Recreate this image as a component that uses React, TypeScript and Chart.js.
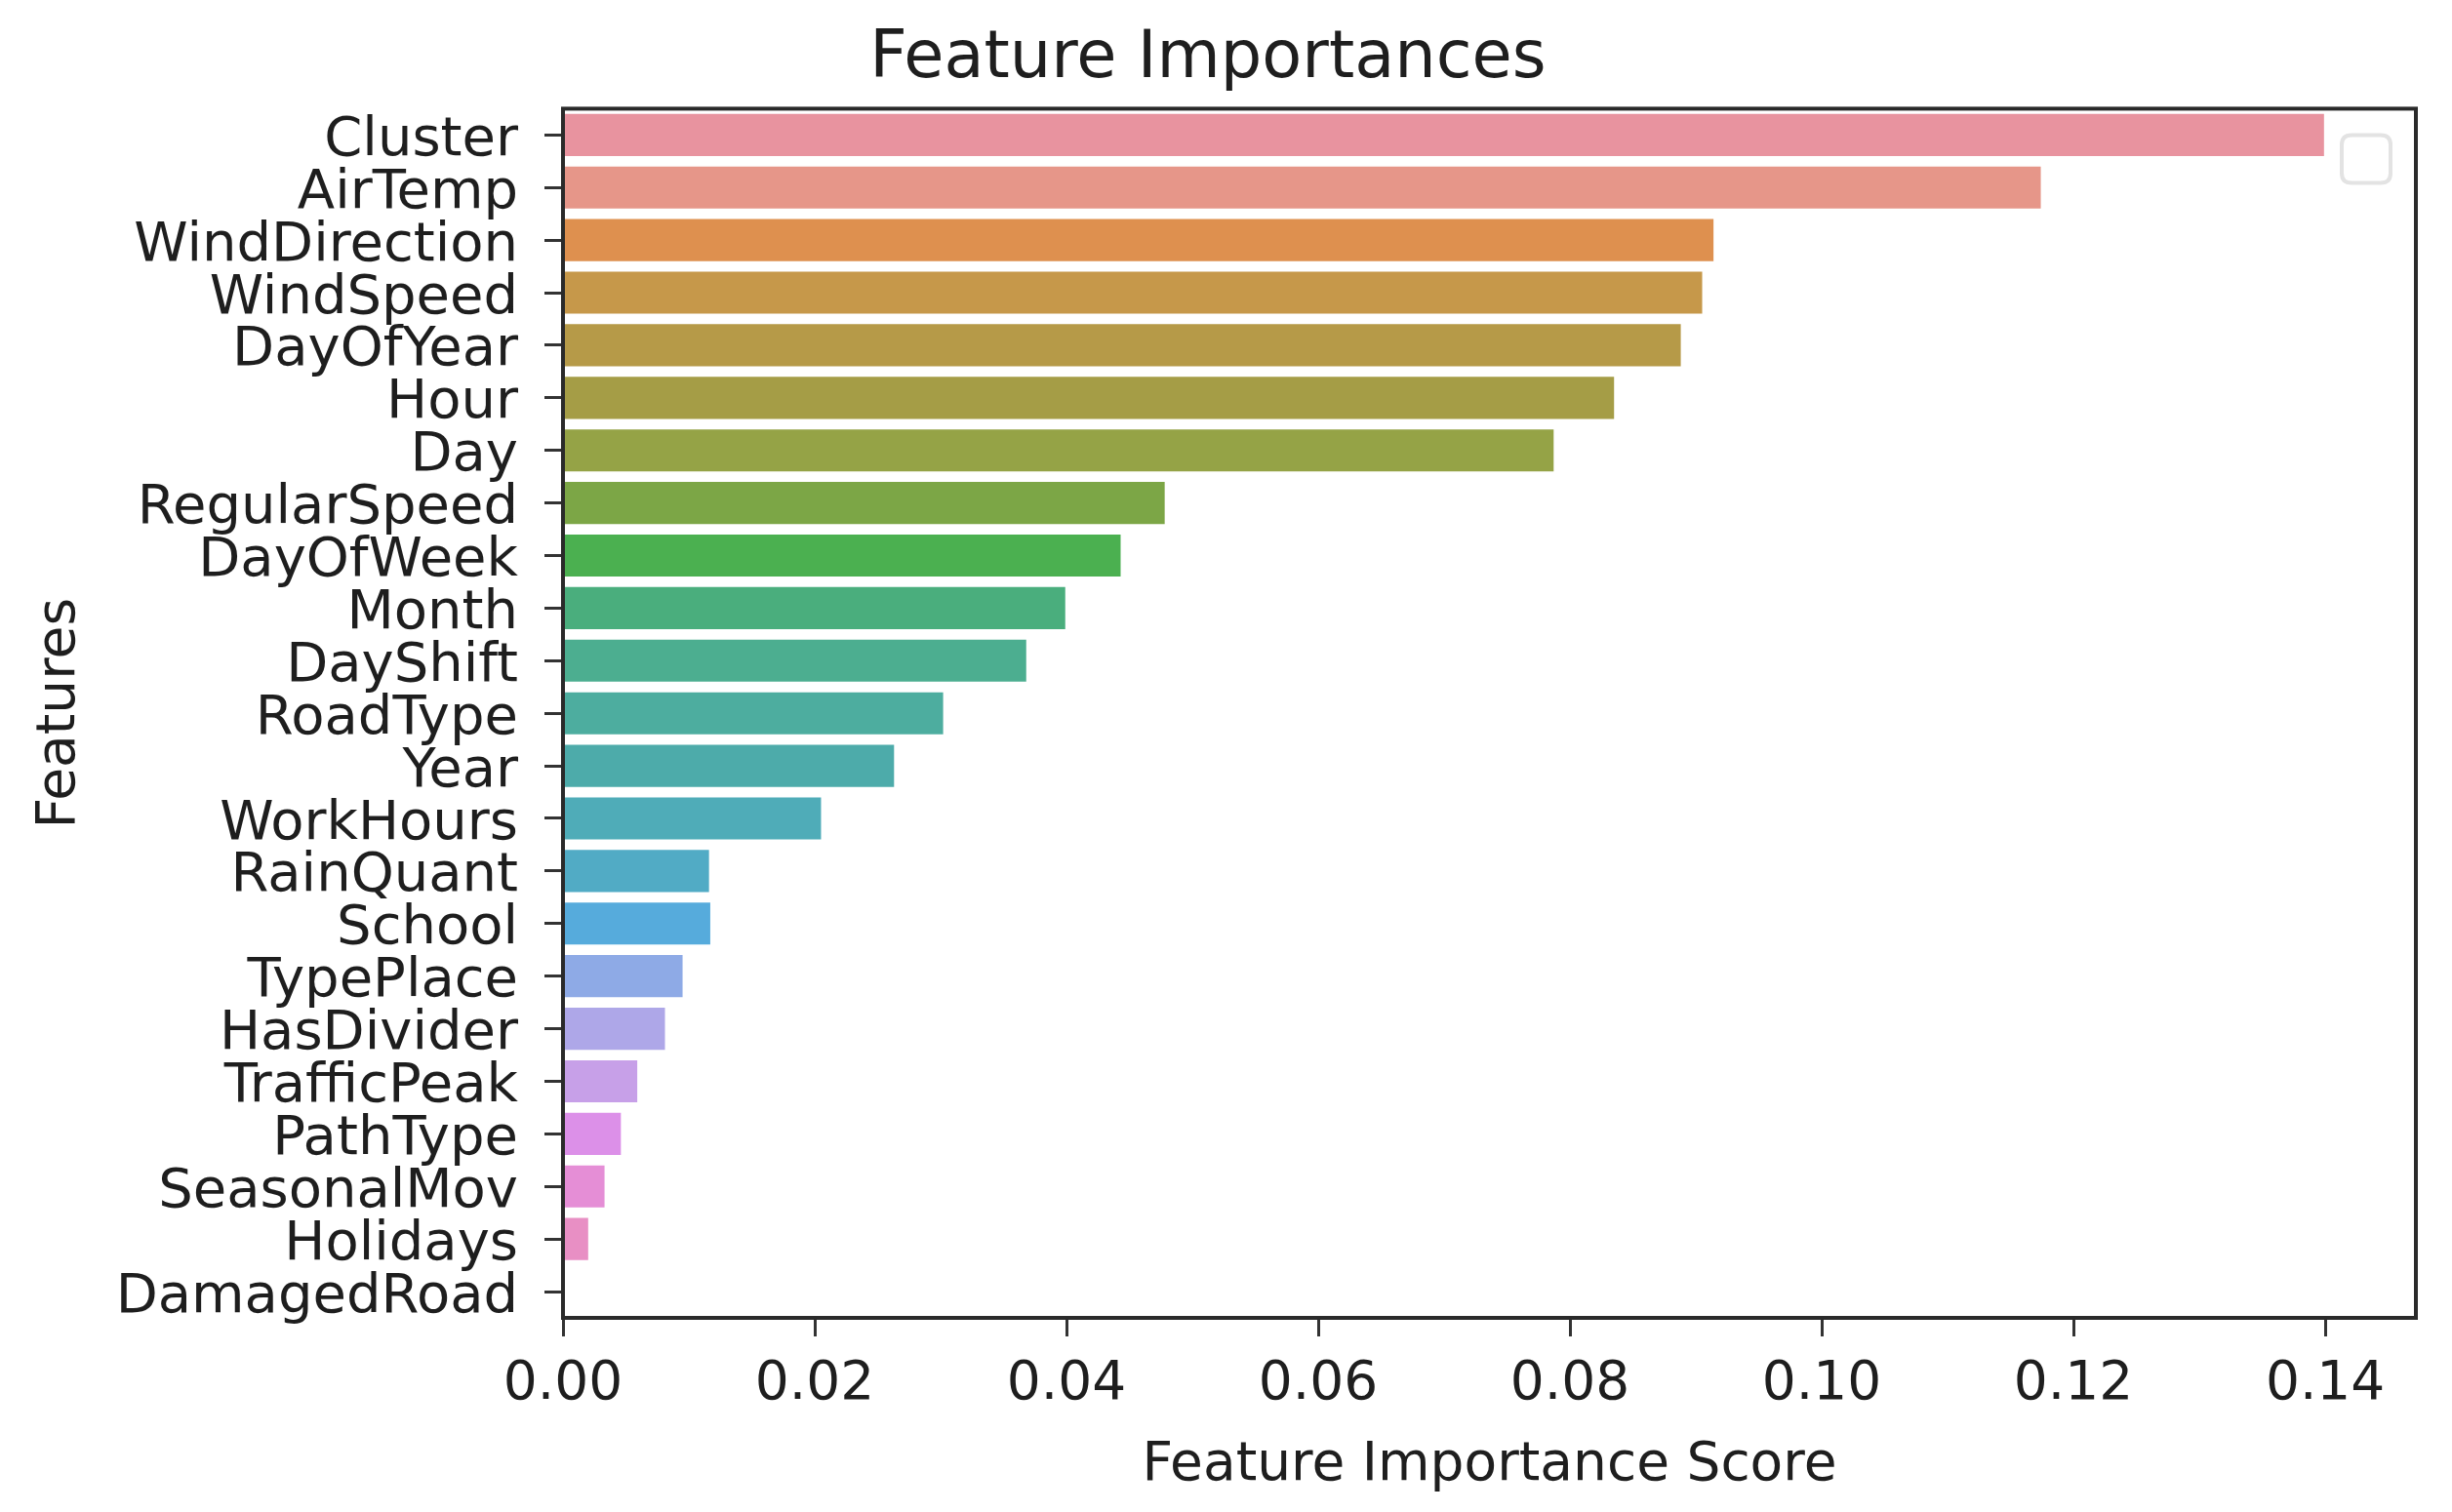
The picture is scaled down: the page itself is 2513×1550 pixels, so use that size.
import React, { useEffect, useRef } from "react";
import { Chart, registerables } from "chart.js";

Chart.register(...registerables);

const features = [
  "Cluster", "AirTemp", "WindDirection", "WindSpeed", "DayOfYear", "Hour", "Day",
  "RegularSpeed", "DayOfWeek", "Month", "DayShift", "RoadType", "Year", "WorkHours",
  "RainQuant", "School", "TypePlace", "HasDivider", "TrafficPeak", "PathType",
  "SeasonalMov", "Holidays", "DamagedRoad",
];

const importances = [
  0.1399, 0.1174, 0.0914, 0.0905, 0.0888, 0.0835, 0.0787,
  0.0478, 0.0443, 0.0399, 0.0368, 0.0302, 0.0263, 0.0205,
  0.0116, 0.0117, 0.0095, 0.0081, 0.0059, 0.0046,
  0.0033, 0.0020, 0.0,
];

const barColors = [
  "#e8939f", "#e69689", "#de904f", "#c6984a", "#b69a48", "#a59d46", "#95a346",
  "#7ca646", "#4bb050", "#4aae7d", "#4cae90", "#4dad9f", "#4dabaa", "#4facb8",
  "#51abc5", "#56abdc", "#8eaae6", "#aea7e8", "#c7a0e8", "#dc90e8",
  "#e58ed6", "#e88fc4", "#e891b0",
];

const xTickValues = [0, 0.02, 0.04, 0.06, 0.08, 0.1, 0.12, 0.14];
const xMin = 0;
const xMax = 0.1472;

const chartTitle = "Feature Importances";
const xAxisTitle = "Feature Importance Score";
const yAxisTitle = "Features";

const W = 2513;
const H = 1550;

export default function App() {
  const canvasRef = useRef<HTMLCanvasElement | null>(null);

  useEffect(() => {
    const canvas = canvasRef.current;
    if (!canvas) return;

    const framePlugin = {
      id: "frameAndLegend",
      afterDatasetsDraw(chart: any) {
        const { ctx, chartArea } = chart;
        const { left, top, right, bottom } = chartArea;
        ctx.save();
        // empty legend box (top right)
        const bw = 50, bh = 49, r = 10;
        const bx = right - 26 - bw;
        const by = top + 27;
        ctx.strokeStyle = "#e3e3e3";
        ctx.lineWidth = 4;
        ctx.beginPath();
        ctx.moveTo(bx + r, by);
        ctx.lineTo(bx + bw - r, by);
        ctx.quadraticCurveTo(bx + bw, by, bx + bw, by + r);
        ctx.lineTo(bx + bw, by + bh - r);
        ctx.quadraticCurveTo(bx + bw, by + bh, bx + bw - r, by + bh);
        ctx.lineTo(bx + r, by + bh);
        ctx.quadraticCurveTo(bx, by + bh, bx, by + bh - r);
        ctx.lineTo(bx, by + r);
        ctx.quadraticCurveTo(bx, by, bx + r, by);
        ctx.closePath();
        ctx.stroke();
        // axes frame
        ctx.strokeStyle = "#2a2a2a";
        ctx.lineWidth = 4;
        ctx.strokeRect(left, top, right - left, bottom - top);
        ctx.restore();
      },
    };

    const textColor = "#1e1e1e";

    const chart = new Chart(canvas, {
      type: "bar",
      data: {
        labels: features,
        datasets: [
          {
            data: importances,
            backgroundColor: barColors,
            borderWidth: 0,
            categoryPercentage: 0.8,
            barPercentage: 1.0,
          },
        ],
      },
      options: {
        indexAxis: "y",
        animation: false,
        responsive: false,
        devicePixelRatio: 1,
        layout: { padding: { left: 0, right: 37, top: 0, bottom: 0 } },
        plugins: {
          legend: { display: false },
          tooltip: { enabled: false },
          title: {
            display: true,
            text: chartTitle,
            color: textColor,
            font: { family: "DejaVu Sans", size: 67, weight: "normal", lineHeight: 1.2 },
            padding: { top: 21, bottom: 10 },
          },
        },
        scales: {
          x: {
            type: "linear",
            position: "bottom",
            min: xMin,
            max: xMax,
            afterBuildTicks: (scale: any) => {
              scale.ticks = xTickValues.map((v) => ({ value: v }));
            },
            afterFit: (scale: any) => {
              scale.height = H - 1351;
            },
            grid: {
              display: true,
              drawOnChartArea: false,
              drawTicks: true,
              tickLength: 19,
              tickWidth: 3,
              tickColor: "#333333",
            },
            border: { display: false },
            ticks: {
              color: textColor,
              font: { family: "DejaVu Sans", size: 55, lineHeight: 1.2 },
              padding: 17,
              maxRotation: 0,
              autoSkip: false,
              callback: (v: any) => Number(v).toFixed(2),
            },
            title: {
              display: true,
              text: xAxisTitle,
              color: textColor,
              font: { family: "DejaVu Sans", size: 55, lineHeight: 1.2 },
              padding: { top: 0, bottom: 14 },
            },
          },
          y: {
            type: "category",
            position: "left",
            offset: true,
            afterFit: (scale: any) => {
              scale.width = 577;
            },
            grid: {
              display: true,
              offset: false,
              drawOnChartArea: false,
              drawTicks: true,
              tickLength: 19,
              tickWidth: 3,
              tickColor: "#333333",
            },
            border: { display: false },
            ticks: {
              color: textColor,
              font: { family: "DejaVu Sans", size: 56, lineHeight: "12px" },
              padding: 27,
              autoSkip: false,
              callback: function (this: any, _v: any, i: number) {
                return ["", features[i]];
              },
            },
            title: {
              display: true,
              text: yAxisTitle,
              color: textColor,
              font: { family: "DejaVu Sans", size: 55, lineHeight: 1.2 },
              padding: { top: 29, bottom: 0 },
            },
          },
        },
      },
      plugins: [framePlugin],
    });

    return () => {
      chart.destroy();
    };
  }, []);

  return (
    <div
      style={{
        position: "absolute",
        left: 0,
        top: 0,
        width: W,
        height: H,
        background: "#ffffff",
      }}
    >
      <canvas ref={canvasRef} width={W} height={H} style={{ display: "block", width: W, height: H }} />
    </div>
  );
}
